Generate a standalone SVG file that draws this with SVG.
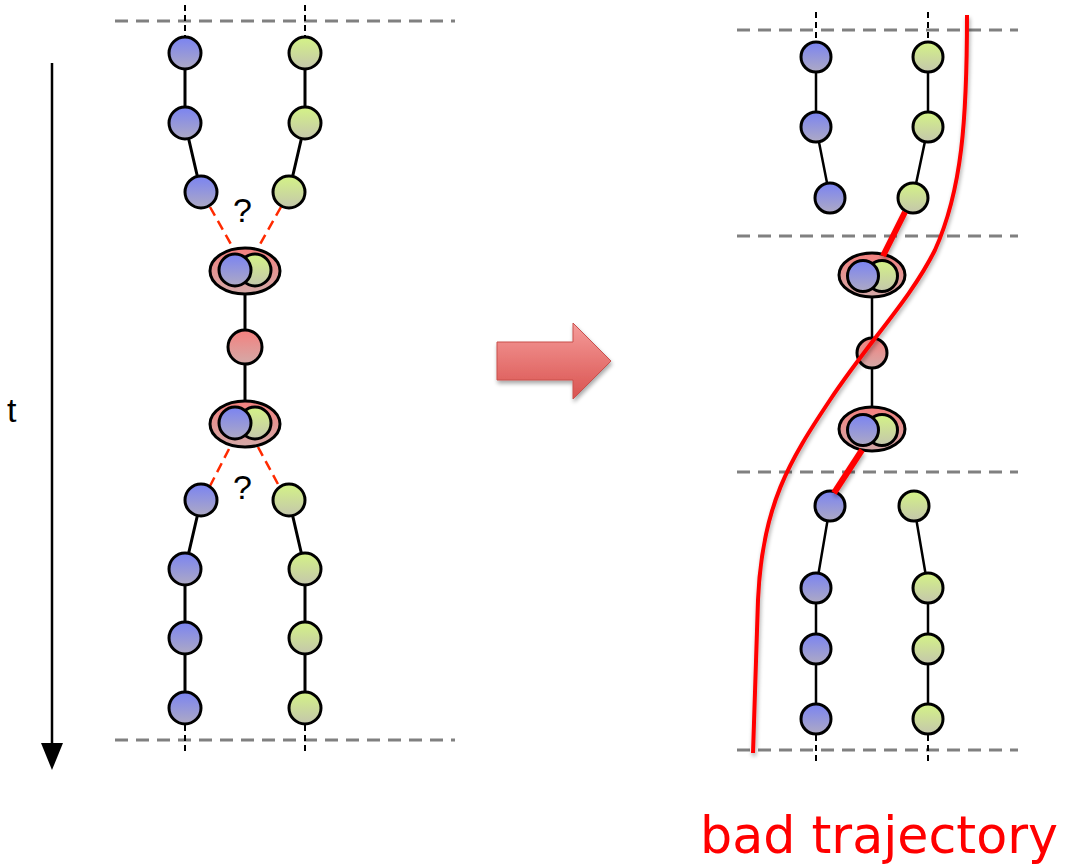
<svg xmlns="http://www.w3.org/2000/svg" width="1066" height="864" viewBox="0 0 1066 864">
<defs>
<linearGradient id="gBlue" x1="0" y1="0" x2="0" y2="1"><stop offset="0" stop-color="#7a83f2"/><stop offset="1" stop-color="#aeaac4"/></linearGradient>
<linearGradient id="gGreen" x1="0" y1="0" x2="0" y2="1"><stop offset="0" stop-color="#d4f386"/><stop offset="1" stop-color="#c4c6ac"/></linearGradient>
<linearGradient id="gPink" x1="0" y1="0" x2="0" y2="1"><stop offset="0" stop-color="#f4807e"/><stop offset="1" stop-color="#d4aaa8"/></linearGradient>
<linearGradient id="gArrow" x1="0" y1="0" x2="0" y2="1"><stop offset="0" stop-color="#f59c9a"/><stop offset="1" stop-color="#d9524f"/></linearGradient>
<filter id="shadow" x="-20%" y="-20%" width="150%" height="150%"><feGaussianBlur in="SourceAlpha" stdDeviation="2"/><feOffset dx="1" dy="3"/><feComponentTransfer><feFuncA type="linear" slope="0.35"/></feComponentTransfer><feMerge><feMergeNode/><feMergeNode in="SourceGraphic"/></feMerge></filter>
</defs>
<style>
.grid{stroke:#808080;stroke-width:3;stroke-dasharray:13 8;fill:none}
.vd{stroke:#000;stroke-width:2;stroke-dasharray:6 4;fill:none}
.ln{stroke:#000;stroke-width:3;fill:none}
.lnr{stroke:#000;stroke-width:2.5;fill:none}
.rd{stroke:#ff2a00;stroke-width:2.5;stroke-dasharray:10 6;fill:none}
.b{fill:url(#gBlue);stroke:#000;stroke-width:3}
.g{fill:url(#gGreen);stroke:#000;stroke-width:3}
.p{fill:url(#gPink);stroke:#000;stroke-width:3}
.q{font-family:"Liberation Sans",Arial,sans-serif;font-size:34px;fill:#000}
</style>

<g id="guides">
<line class="grid" x1="115" y1="21" x2="455" y2="21"/>
<line class="grid" x1="115" y1="740" x2="455" y2="740"/>
<line class="vd" x1="185" y1="5" x2="185" y2="37"/>
<line class="vd" x1="305" y1="5" x2="305" y2="37"/>
<line class="vd" x1="185" y1="725" x2="185" y2="755"/>
<line class="vd" x1="305" y1="725" x2="305" y2="755"/>
<line class="grid" x1="737" y1="30" x2="1018" y2="30"/>
<line class="grid" x1="737" y1="236" x2="1018" y2="236"/>
<line class="grid" x1="737" y1="472" x2="1018" y2="472"/>
<line class="grid" x1="737" y1="750" x2="1018" y2="750"/>
<line class="vd" x1="816" y1="12" x2="816" y2="42"/>
<line class="vd" x1="928" y1="12" x2="928" y2="42"/>
<line class="vd" x1="816" y1="735" x2="816" y2="765"/>
<line class="vd" x1="928" y1="735" x2="928" y2="765"/>
</g>

<g id="time-axis">
<line x1="52" y1="63" x2="52" y2="746" stroke="#000" stroke-width="2.5"/>
<polygon points="41,743 63,743 52,770" fill="#000"/>
<text x="7" y="422" style="font-family:'Liberation Sans',Arial,sans-serif;font-size:34px" fill="#000">t</text>
</g>

<g id="connectors">
<polyline class="ln" points="185,53 185,123 201,192"/>
<polyline class="ln" points="305,53 305,123 289,192"/>
<polyline class="ln" points="245,294 245,347 245,400"/>
<polyline class="ln" points="201,500 185,569 185,638 185,708"/>
<polyline class="ln" points="289,500 305,569 305,638 305,708"/>
<line class="rd" x1="210" y1="207" x2="232" y2="246"/>
<line class="rd" x1="281" y1="207" x2="259" y2="246"/>
<line class="rd" x1="229" y1="449" x2="210" y2="486"/>
<line class="rd" x1="258" y1="447" x2="279" y2="486"/>
<polyline class="lnr" points="816,57 816,127 830,198"/>
<polyline class="lnr" points="928,57 928,127 913,198"/>
<polyline class="lnr" points="872,298 872,353 872,406"/>
<polyline class="lnr" points="830,506 816,588 816,649 816,719"/>
<polyline class="lnr" points="914,506 928,588 928,649 928,719"/>
</g>

<g id="left-blue"><circle class="b" cx="185" cy="53" r="16"/><circle class="b" cx="185" cy="123" r="16"/><circle class="b" cx="201" cy="192" r="16"/></g>
<g id="left-green"><circle class="g" cx="305" cy="53" r="16"/><circle class="g" cx="305" cy="123" r="16"/><circle class="g" cx="289" cy="192" r="16"/></g>
<g id="left-merge1"><ellipse class="p" cx="245" cy="271" rx="35" ry="23"/><circle class="g" cx="255" cy="270" r="16"/><circle class="b" cx="235" cy="270" r="16"/></g>
<g id="left-mid"><circle class="p" cx="245" cy="347" r="17"/></g>
<g id="left-merge2"><ellipse class="p" cx="245" cy="424" rx="35" ry="23"/><circle class="g" cx="255" cy="423" r="16"/><circle class="b" cx="235" cy="423" r="16"/></g>
<g id="left-blue2"><circle class="b" cx="201" cy="500" r="16"/><circle class="b" cx="185" cy="569" r="16"/><circle class="b" cx="185" cy="638" r="16"/><circle class="b" cx="185" cy="708" r="16"/></g>
<g id="left-green2"><circle class="g" cx="289" cy="500" r="16"/><circle class="g" cx="305" cy="569" r="16"/><circle class="g" cx="305" cy="638" r="16"/><circle class="g" cx="305" cy="708" r="16"/></g>
<g id="q-labels"><text class="q" x="233" y="222">?</text><text class="q" x="233" y="499">?</text></g>

<g id="big-arrow"><polygon points="497,342 573,342 573,323 611,361 573,399 573,380 497,380" fill="url(#gArrow)" stroke="#c9504d" stroke-width="1" filter="url(#shadow)"/></g>

<g id="right-blue"><circle class="b" cx="816" cy="57" r="15"/><circle class="b" cx="816" cy="127" r="15"/><circle class="b" cx="830" cy="198" r="15"/></g>
<g id="right-green"><circle class="g" cx="928" cy="57" r="15"/><circle class="g" cx="928" cy="127" r="15"/><circle class="g" cx="913" cy="198" r="15"/></g>
<g id="right-merge1"><ellipse class="p" cx="872" cy="275" rx="33" ry="22"/><circle class="g" cx="882" cy="276" r="15.5"/><circle class="b" cx="863" cy="276" r="15.5"/></g>
<g id="right-mid"><circle class="p" cx="872" cy="353" r="15"/></g>
<g id="right-merge2"><ellipse class="p" cx="872" cy="429" rx="33" ry="22"/><circle class="g" cx="882" cy="430" r="15.5"/><circle class="b" cx="863" cy="430" r="15.5"/></g>
<g id="right-blue2"><circle class="b" cx="830" cy="506" r="15"/><circle class="b" cx="816" cy="588" r="15"/><circle class="b" cx="816" cy="649" r="15"/><circle class="b" cx="816" cy="719" r="15"/></g>
<g id="right-green2"><circle class="g" cx="914" cy="506" r="15"/><circle class="g" cx="928" cy="588" r="15"/><circle class="g" cx="928" cy="649" r="15"/><circle class="g" cx="928" cy="719" r="15"/></g>

<g id="trajectory" filter="url(#shadow)">
<line x1="905" y1="212" x2="883" y2="256" stroke="#ff0000" stroke-width="6"/>
<line x1="862" y1="450" x2="834" y2="493" stroke="#ff0000" stroke-width="6"/>
<path d="M967,15 C967,120 962,190 935,250 C910,300 870,340 830,400 C790,460 762,505 758,600 L753,753" fill="none" stroke="#ff0000" stroke-width="4"/>
</g>

<text x="700" y="853" style="font-family:'DejaVu Sans',Verdana,sans-serif;font-size:52px" fill="#ff0000" textLength="358" lengthAdjust="spacingAndGlyphs">bad trajectory</text>
</svg>
